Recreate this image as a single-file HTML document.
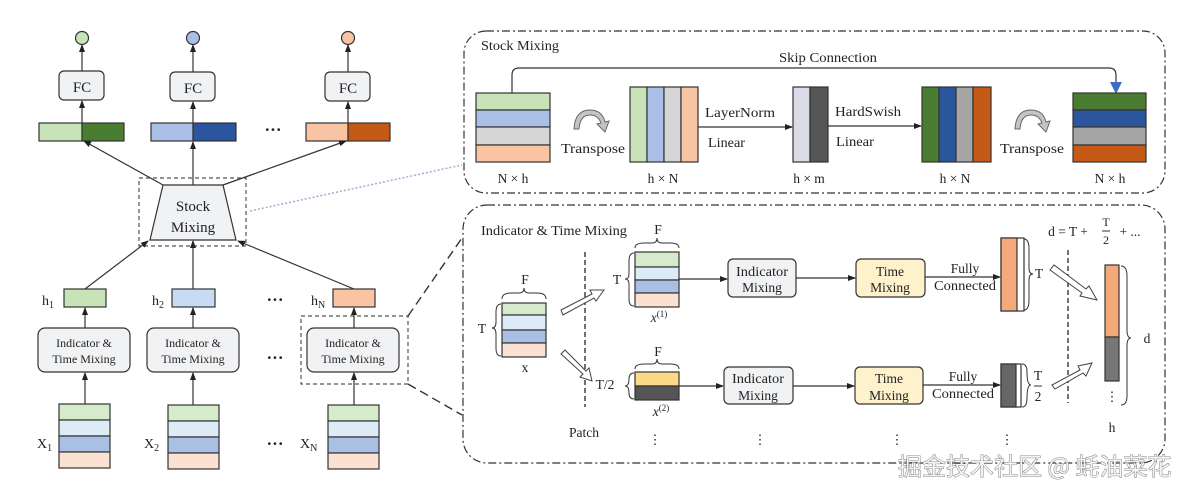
<!DOCTYPE html>
<html><head><meta charset="utf-8"><style>
html,body{margin:0;padding:0;background:#fff;}
svg{display:block;}
text{font-family:"Liberation Serif",serif;fill:#222;}
</style></head><body>
<svg width="1200" height="495" viewBox="0 0 1200 495" xmlns="http://www.w3.org/2000/svg">
<defs>
<marker id="a" markerWidth="8" markerHeight="8" refX="7" refY="4" orient="auto" markerUnits="userSpaceOnUse"><path d="M0,1 L8,4 L0,7 z" fill="#222"/></marker>
<marker id="ab" markerWidth="12" markerHeight="12" refX="10" refY="6" orient="auto" markerUnits="userSpaceOnUse"><path d="M0,0 L12,6 L0,12 z" fill="#3b6fc4"/></marker>
</defs>
<g stroke="#333" stroke-width="1.2" fill="none">
<circle cx="82" cy="38" r="6.5" fill="#c8e3b8"/>
<circle cx="193" cy="38" r="6.5" fill="#aabfe6"/>
<circle cx="348" cy="38" r="6.5" fill="#f8c4a4"/>
<rect x="59" y="71" width="45" height="29" rx="5" fill="#f1f2f4"/>
<rect x="170" y="72" width="45" height="29" rx="5" fill="#f1f2f4"/>
<rect x="325" y="72" width="45" height="29" rx="5" fill="#f1f2f4"/>
<rect x="39" y="123" width="43" height="18" fill="#c8e3b8"/><rect x="82" y="123" width="42" height="18" fill="#4a7d32"/>
<rect x="151" y="123" width="42" height="18" fill="#aabfe6"/><rect x="193" y="123" width="43" height="18" fill="#2b559c"/>
<rect x="306" y="123" width="42" height="18" fill="#f8c4a4"/><rect x="348" y="123" width="42" height="18" fill="#c55a17"/>
<rect x="139" y="178" width="107" height="68" stroke-dasharray="4,3" stroke="#555"/>
<path d="M163,185 L223,185 L236,240 L150,240 z" fill="#f1f2f4"/>
<rect x="64" y="289" width="42" height="18" fill="#c8e3b8"/>
<rect x="172" y="289" width="43" height="18" fill="#c7dcf2"/>
<rect x="333" y="289" width="42" height="18" fill="#f8c4a4"/>
<rect x="38" y="328" width="92" height="44" rx="7" fill="#f1f2f4"/>
<rect x="147" y="328" width="92" height="44" rx="7" fill="#f1f2f4"/>
<rect x="307" y="328" width="92" height="44" rx="7" fill="#f1f2f4"/>
<rect x="301" y="316" width="107" height="68" stroke-dasharray="4,3" stroke="#555"/>
<rect x="59" y="404" width="51" height="16" fill="#d6ebcc"/><rect x="59" y="420" width="51" height="16" fill="#ddebf7"/><rect x="59" y="436" width="51" height="16" fill="#a9bfe3"/><rect x="59" y="452" width="51" height="16" fill="#fbe1d2"/>
<rect x="168" y="405" width="51" height="16" fill="#d6ebcc"/><rect x="168" y="421" width="51" height="16" fill="#ddebf7"/><rect x="168" y="437" width="51" height="16" fill="#a9bfe3"/><rect x="168" y="453" width="51" height="16" fill="#fbe1d2"/>
<rect x="328" y="405" width="51" height="16" fill="#d6ebcc"/><rect x="328" y="421" width="51" height="16" fill="#ddebf7"/><rect x="328" y="437" width="51" height="16" fill="#a9bfe3"/><rect x="328" y="453" width="51" height="16" fill="#fbe1d2"/>
<g marker-end="url(#a)">
<line x1="82" y1="71" x2="82" y2="45"/><line x1="193" y1="72" x2="193" y2="45"/><line x1="348" y1="72" x2="348" y2="45"/>
<line x1="82" y1="123" x2="82" y2="101"/><line x1="193" y1="123" x2="193" y2="102"/><line x1="348" y1="123" x2="348" y2="102"/>
<line x1="163" y1="185" x2="84" y2="141"/><line x1="193" y1="185" x2="193" y2="142"/><line x1="223" y1="185" x2="346" y2="141"/>
<line x1="85" y1="289" x2="148" y2="241"/><line x1="193" y1="289" x2="193" y2="241"/><line x1="354" y1="289" x2="238" y2="241"/>
<line x1="85" y1="328" x2="85" y2="308"/><line x1="193" y1="328" x2="193" y2="308"/><line x1="354" y1="328" x2="354" y2="308"/>
<line x1="85" y1="404" x2="85" y2="373"/><line x1="193" y1="405" x2="193" y2="373"/><line x1="354" y1="405" x2="354" y2="373"/>
</g>
<line x1="250" y1="211" x2="462" y2="165" stroke="#9bb0d0" stroke-dasharray="2,2" stroke-width="1.5"/>
<line x1="408" y1="316" x2="462" y2="238" stroke-dasharray="9,5" stroke-width="1.4"/>
<line x1="408" y1="384" x2="462" y2="415" stroke-dasharray="9,5" stroke-width="1.4"/>

<rect x="464" y="31" width="701" height="162" rx="22" stroke-dasharray="8,3,2,3" stroke="#333"/>
<rect x="476" y="93" width="74" height="17" fill="#c8e3b8"/><rect x="476" y="110" width="74" height="17" fill="#aabfe6"/><rect x="476" y="127" width="74" height="18" fill="#d6d6d6"/><rect x="476" y="145" width="74" height="17" fill="#f8c4a4"/>
<path d="M512,93 L512,75 Q512,68 519,68 L1109,68 Q1116,68 1116,75 L1116,92" stroke="#333" marker-end="url(#ab)"/>
<rect x="630" y="87" width="17" height="75" fill="#c8e3b8"/><rect x="647" y="87" width="17" height="75" fill="#aabfe6"/><rect x="664" y="87" width="17" height="75" fill="#d6d6d6"/><rect x="681" y="87" width="17" height="75" fill="#f8c4a4"/>
<line x1="698" y1="127" x2="792" y2="127" marker-end="url(#a)"/>
<rect x="793" y="87" width="17" height="75" fill="#d9dbe6"/><rect x="810" y="87" width="18" height="75" fill="#555"/>
<line x1="828" y1="126" x2="921" y2="126" marker-end="url(#a)"/>
<rect x="922" y="87" width="17" height="75" fill="#4a7d32"/><rect x="939" y="87" width="17" height="75" fill="#2b559c"/><rect x="956" y="87" width="17" height="75" fill="#a6a6a6"/><rect x="973" y="87" width="18" height="75" fill="#c55a17"/>
<rect x="1073" y="93" width="73" height="17" fill="#4a7d32"/><rect x="1073" y="110" width="73" height="17" fill="#2b559c"/><rect x="1073" y="127" width="73" height="18" fill="#a6a6a6"/><rect x="1073" y="145" width="73" height="17" fill="#c55a17"/>
<path d="M574,129 Q575,110 590,110 Q602,110 605,122 L609,121 L605,132 L597,124 L601,123 Q598,115 590,115 Q580,115 579,129 z" fill="#c4c4c4" stroke="#666" stroke-width="1"/>
<path d="M1015,129 Q1016,110 1031,110 Q1043,110 1046,122 L1050,121 L1046,132 L1038,124 L1042,123 Q1039,115 1031,115 Q1021,115 1020,129 z" fill="#c4c4c4" stroke="#666" stroke-width="1"/>

<rect x="463" y="205" width="702" height="258" rx="24" stroke-dasharray="8,3,2,3" stroke="#333"/>
<rect x="502" y="303" width="44" height="12" fill="#d6ebcc"/><rect x="502" y="315" width="44" height="15" fill="#ddebf7"/><rect x="502" y="330" width="44" height="13" fill="#a9bfe3"/><rect x="502" y="343" width="44" height="14" fill="#fbe1d2"/>
<line x1="585" y1="252" x2="585" y2="407" stroke-dasharray="5,3" stroke-width="1.4"/>
<line x1="1068" y1="250" x2="1068" y2="403" stroke-dasharray="5,3" stroke-width="1.4"/>
<rect x="635" y="252" width="44" height="15" fill="#d6ebcc"/><rect x="635" y="267" width="44" height="13" fill="#ddebf7"/><rect x="635" y="280" width="44" height="13" fill="#a9bfe3"/><rect x="635" y="293" width="44" height="14" fill="#fbe1d2"/>
<rect x="635" y="372" width="44" height="14" fill="#fad987"/><rect x="635" y="386" width="44" height="14" fill="#555"/>
<rect x="728" y="259" width="68" height="38" rx="5" fill="#f1f2f4"/>
<rect x="856" y="259" width="69" height="38" rx="5" fill="#fdf2cc"/>
<rect x="724" y="367" width="69" height="37" rx="5" fill="#f1f2f4"/>
<rect x="855" y="367" width="68" height="37" rx="5" fill="#fdf2cc"/>
<g marker-end="url(#a)">
<line x1="679" y1="279" x2="727" y2="279"/><line x1="796" y1="278" x2="855" y2="278"/><line x1="925" y1="277" x2="1000" y2="277"/>
<line x1="679" y1="386" x2="723" y2="386"/><line x1="793" y1="386" x2="854" y2="386"/><line x1="923" y1="385" x2="1000" y2="385"/>
</g>
<rect x="1001" y="238" width="23" height="73" fill="#fff"/><rect x="1001" y="238" width="16" height="73" fill="#f4a97a"/>
<rect x="1001" y="364" width="20" height="43" fill="#fff"/><rect x="1001" y="364" width="15" height="43" fill="#666"/>
<rect x="1105" y="265" width="14" height="72" fill="#f4a97a"/><rect x="1105" y="337" width="14" height="44" fill="#777"/>
<g stroke-width="1">
<path d="M502,299 Q502,293 511,293 L519,293 Q524,293 524,288 Q524,293 529,293 L537,293 Q546,293 546,299"/>
<path d="M635,248 Q635,243 644,243 L652,243 Q657,243 657,238 Q657,243 662,243 L670,243 Q679,243 679,248"/>
<path d="M635,369 Q635,364 644,364 L652,364 Q657,364 657,359 Q657,364 662,364 L670,364 Q679,364 679,369"/>
<path d="M501,304 Q496,304 496,312 L496,322 Q496,328 492,328 Q496,328 496,334 L496,348 Q496,356 501,356"/>
<path d="M634,253 Q629,253 629,261 L629,274 Q629,279 625,279 Q629,279 629,284 L629,299 Q629,306 634,306"/>
<path d="M634,373 Q629,373 629,379 Q629,386 625,386 Q629,386 629,393 Q629,399 634,399"/>
<path d="M1024,239 Q1029,239 1029,249 L1029,268 Q1029,274 1033,274 Q1029,274 1029,280 L1029,300 Q1029,310 1024,310"/>
<path d="M1022,364 Q1027,364 1027,372 Q1027,385 1031,385 Q1027,385 1027,398 Q1027,407 1022,407"/>
<path d="M1121,266 Q1127,266 1127,276 L1127,330 Q1127,338 1131,338 Q1127,338 1127,346 L1127,396 Q1127,405 1121,405"/>
</g>
<g fill="#fff" stroke="#444" stroke-width="1">
<path d="M561,310 L592,294 L590,290 L604,290 L596,301 L594,298 L563,315 z"/>
<path d="M561,354 L583,374 L580,377 L592,381 L589,368 L586,371 L565,350 z"/>
<path d="M1050,270 L1082,293 L1080,296 L1097,300 L1089,286 L1086,289 L1054,265 z"/>
<path d="M1052,385 L1080,370 L1078,366 L1092,363 L1086,376 L1083,373 L1055,389 z"/>
</g>
</g>

<g font-size="15" text-anchor="middle">
<text x="82" y="92">FC</text><text x="193" y="93">FC</text><text x="348" y="93">FC</text>
<text x="193" y="211">Stock</text><text x="193" y="232">Mixing</text>
</g>
<g font-size="17" text-anchor="middle" font-weight="bold"><text x="273" y="135">···</text><text x="275" y="305">···</text><text x="275" y="363">···</text><text x="275" y="449">···</text></g>
<g font-size="14">
<text x="42" y="305">h<tspan font-size="10" dy="3">1</tspan></text>
<text x="152" y="305">h<tspan font-size="10" dy="3">2</tspan></text>
<text x="311" y="305">h<tspan font-size="10" dy="3">N</tspan></text>
<text x="37" y="448">X<tspan font-size="10" dy="3">1</tspan></text>
<text x="144" y="448">X<tspan font-size="10" dy="3">2</tspan></text>
<text x="300" y="448">X<tspan font-size="10" dy="3">N</tspan></text>
</g>
<g font-size="12" text-anchor="middle">
<text x="84" y="347">Indicator &amp;</text><text x="84" y="363">Time Mixing</text>
<text x="193" y="347">Indicator &amp;</text><text x="193" y="363">Time Mixing</text>
<text x="353" y="347">Indicator &amp;</text><text x="353" y="363">Time Mixing</text>
</g>
<g font-size="13.5">
<text x="481" y="50" textLength="78" lengthAdjust="spacingAndGlyphs">Stock Mixing</text>
<text x="779" y="62" textLength="98" lengthAdjust="spacingAndGlyphs">Skip Connection</text>
<text x="561" y="153" textLength="64" lengthAdjust="spacingAndGlyphs">Transpose</text>
<text x="705" y="117" textLength="70" lengthAdjust="spacingAndGlyphs">LayerNorm</text>
<text x="708" y="147" textLength="37" lengthAdjust="spacingAndGlyphs">Linear</text>
<text x="835" y="116" textLength="66" lengthAdjust="spacingAndGlyphs">HardSwish</text>
<text x="836" y="146" textLength="38" lengthAdjust="spacingAndGlyphs">Linear</text>
<text x="1000" y="153" textLength="64" lengthAdjust="spacingAndGlyphs">Transpose</text>
<g text-anchor="middle"><text x="513" y="183">N × h</text><text x="663" y="183">h × N</text><text x="809" y="183">h × m</text><text x="955" y="183">h × N</text><text x="1110" y="183">N × h</text></g>
<text x="481" y="235" textLength="146" lengthAdjust="spacingAndGlyphs">Indicator &amp; Time Mixing</text>
</g>
<g font-size="13.5" text-anchor="middle">
<text x="525" y="284">F</text><text x="482" y="333">T</text><text x="525" y="372">x</text>
<text x="658" y="234">F</text><text x="617" y="284">T</text>
<text x="658" y="356">F</text><text x="605" y="389">T/2</text>
<text x="659" y="322" font-style="italic">x<tspan font-size="9" dy="-5" font-style="normal">(1)</tspan></text>
<text x="661" y="416" font-style="italic">x<tspan font-size="9" dy="-5" font-style="normal">(2)</tspan></text>
<text x="584" y="437">Patch</text>
<text x="762" y="276" textLength="52" lengthAdjust="spacingAndGlyphs">Indicator</text><text x="762" y="292">Mixing</text>
<text x="890" y="276">Time</text><text x="890" y="292">Mixing</text>
<text x="758" y="383" textLength="52" lengthAdjust="spacingAndGlyphs">Indicator</text><text x="758" y="400">Mixing</text>
<text x="889" y="383">Time</text><text x="889" y="400">Mixing</text>
<text x="965" y="273">Fully</text><text x="965" y="290" textLength="62" lengthAdjust="spacingAndGlyphs">Connected</text>
<text x="963" y="381">Fully</text><text x="963" y="398" textLength="62" lengthAdjust="spacingAndGlyphs">Connected</text>
<text x="1039" y="278">T</text>
<text x="1038" y="380">T</text><line x1="1034" y1="386" x2="1042" y2="386" stroke="#333"/><text x="1038" y="401">2</text>
<text x="1147" y="343">d</text><text x="1112" y="432">h</text>
<text x="1068" y="236">d = T +</text><text x="1106" y="226" font-size="12">T</text><line x1="1102" y1="231" x2="1110" y2="231" stroke="#333"/><text x="1106" y="244" font-size="12">2</text><text x="1130" y="236">+ ...</text>
<text x="1112" y="401">⋮</text>
<text x="655" y="444">⋮</text><text x="760" y="444">⋮</text><text x="897" y="444">⋮</text><text x="1007" y="444">⋮</text>
</g>
<text x="898" y="475" font-size="24" style="font-family:'Noto Sans CJK SC','WenQuanYi Zen Hei',sans-serif;fill:#f4f4f4;stroke:#666;stroke-width:0.8;paint-order:stroke">掘金技术社区 @ 蚝油菜花</text>
</svg>
</body></html>
